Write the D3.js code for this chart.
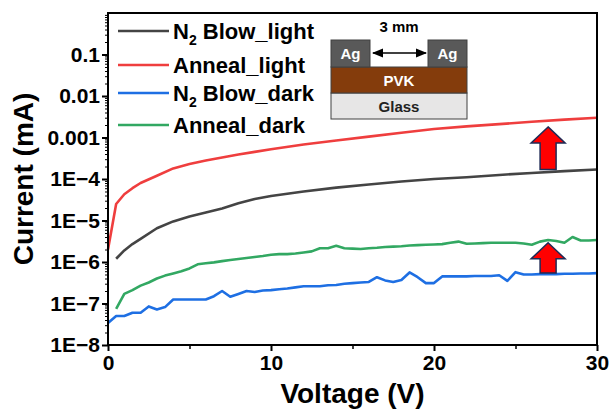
<!DOCTYPE html>
<html>
<head>
<meta charset="utf-8">
<script src="https://d3js.org/d3.v7.min.js"></script>
<style>
  body { margin: 0; background: #fff; }
  text { font-family: "Liberation Sans", Arial, sans-serif; font-weight: bold; }
</style>
</head>
<body>
<div id="chart"></div>
<script>
// voltage grids (V)
const lightVoltage = [0, 0.5, 1, 1.5, 2, 3, 4, 5, 6, 7, 8, 9, 10, 12, 14, 16, 18, 20, 22, 24, 26, 28, 30];
const darkVoltage = d3.range(0, 30.5, 0.5);

// currents (mA)
const annealLight = [2.0e-6, 2.5e-5, 4.3e-5, 6.0e-5, 8.0e-5, 1.2e-4, 1.8e-4, 2.3e-4, 2.8e-4, 3.3e-4, 3.9e-4, 4.5e-4,
  5.2e-4, 6.8e-4, 8.5e-4, 1.05e-3, 1.3e-3, 1.6e-3, 1.85e-3, 2.1e-3, 2.4e-3, 2.7e-3, 3.0e-3];
const n2Light = [null, 1.2e-6, 1.9e-6, 2.7e-6, 3.6e-6, 6.5e-6, 9.5e-6, 1.25e-5, 1.55e-5, 1.95e-5, 2.6e-5, 3.3e-5,
  3.9e-5, 5.0e-5, 6.2e-5, 7.4e-5, 8.7e-5, 1.0e-4, 1.1e-4, 1.25e-4, 1.4e-4, 1.55e-4, 1.7e-4];
const n2Dark = [3.4e-8, 5.0e-8, 5.0e-8, 6.0e-8, 6.0e-8, 8.5e-8, 7.2e-8, 8.2e-8, 1.25e-7, 1.25e-7, 1.25e-7, 1.25e-7,
  1.25e-7, 1.5e-7, 2.0e-7, 1.45e-7, 1.7e-7, 2.0e-7, 1.9e-7, 2.05e-7, 2.1e-7, 2.2e-7, 2.3e-7, 2.45e-7,
  2.6e-7, 2.6e-7, 2.6e-7, 2.75e-7, 2.8e-7, 3.0e-7, 3.1e-7, 3.2e-7, 3.3e-7, 4.3e-7, 3.6e-7, 3.3e-7,
  3.7e-7, 5.6e-7, 4.3e-7, 3.1e-7, 3.1e-7, 4.5e-7, 4.5e-7, 4.5e-7, 4.5e-7, 4.6e-7, 4.6e-7, 4.6e-7,
  4.8e-7, 3.5e-7, 5.7e-7, 5.0e-7, 5.0e-7, 5.1e-7, 5.1e-7, 5.1e-7, 5.2e-7, 5.2e-7, 5.3e-7, 5.3e-7, 5.4e-7];
const annealDark = [null, 7.4e-8, 1.7e-7, 2.1e-7, 2.7e-7, 3.2e-7, 4.0e-7, 4.7e-7, 5.3e-7, 6.0e-7, 7.0e-7, 8.8e-7,
  9.3e-7, 9.8e-7, 1.05e-6, 1.12e-6, 1.18e-6, 1.25e-6, 1.32e-6, 1.4e-6, 1.5e-6, 1.55e-6, 1.55e-6, 1.6e-6,
  1.7e-6, 1.8e-6, 2.15e-6, 2.15e-6, 2.45e-6, 2.15e-6, 2.1e-6, 2.05e-6, 2.15e-6, 2.2e-6, 2.3e-6, 2.35e-6,
  2.4e-6, 2.5e-6, 2.55e-6, 2.6e-6, 2.65e-6, 2.7e-6, 2.9e-6, 3.1e-6, 2.75e-6, 2.8e-6, 2.85e-6, 2.9e-6,
  2.9e-6, 2.9e-6, 2.9e-6, 2.8e-6, 2.6e-6, 3.1e-6, 3.4e-6, 3.2e-6, 2.9e-6, 4.0e-6, 3.3e-6, 3.3e-6, 3.4e-6];

const yTicks = [1e-1, 1e-2, 1e-3, 1e-4, 1e-5, 1e-6, 1e-7, 1e-8];
const xTicks = [0, 10, 20, 30];

// legend order
const series = [
  {name: "Blow_light", sub: true, x: lightVoltage, y: n2Light, color: "#444444"},
  {name: "Anneal_light", sub: false, x: lightVoltage, y: annealLight, color: "#ef3e3e"},
  {name: "Blow_dark", sub: true, x: darkVoltage, y: n2Dark, color: "#1e6fe3"},
  {name: "Anneal_dark", sub: false, x: darkVoltage, y: annealDark, color: "#32a862"}
];
// red arrows: voltage, from, to
const arrows = [{v: 27, from: 1.7e-4, to: 1.8e-3}, {v: 27, from: 5.4e-7, to: 2.9e-6}];

const w = 611, h = 409;
const m = {l: 108, r: 14, t: 13, b: 64};

const svg = d3.select("#chart").append("svg")
  .attr("width", w).attr("height", h);

const x = d3.scaleLinear().domain([0, 30]).range([m.l, w - m.r]);
const y = d3.scaleLog().domain([1e-8, 1]).range([h - m.b, m.t]);

const fmt = (d) => {
  const e = Math.round(Math.log10(d));
  return e >= -3 ? d.toFixed(-e) : "1E\u2212" + (-e);
};

// minor ticks
const minorY = [];
for (let e = -8; e < 0; e++) for (let k = 2; k <= 9; k++) minorY.push(k * Math.pow(10, e));

svg.append("g")
  .attr("transform", `translate(${m.l},0)`)
  .call(d3.axisLeft(y).tickValues(minorY).tickSize(3).tickFormat(""))
  .call(g => g.select(".domain").remove())
  .selectAll("line").attr("stroke-width", 1);

svg.append("g")
  .attr("transform", `translate(0,${h - m.b})`)
  .call(d3.axisBottom(x).tickValues([5, 15, 25]).tickSize(4).tickFormat(""))
  .call(g => g.select(".domain").remove())
  .selectAll("line").attr("stroke-width", 1.5);

const yAxis = svg.append("g")
  .attr("transform", `translate(${m.l},0)`)
  .call(d3.axisLeft(y).tickValues(yTicks).tickSize(6).tickPadding(2).tickFormat(fmt));
yAxis.select(".domain").remove();
yAxis.selectAll("line").attr("stroke-width", 2);
yAxis.selectAll("text").attr("font-size", 21).attr("fill", "#000")
  .attr("font-family", "Liberation Sans, Arial, sans-serif").attr("font-weight", "bold");

const xAxis = svg.append("g")
  .attr("transform", `translate(0,${h - m.b})`)
  .call(d3.axisBottom(x).tickValues(xTicks).tickSize(6).tickPadding(4));
xAxis.select(".domain").remove();
xAxis.selectAll("line").attr("stroke-width", 2);
xAxis.selectAll("text").attr("font-size", 21).attr("fill", "#000")
  .attr("font-family", "Liberation Sans, Arial, sans-serif").attr("font-weight", "bold");

// curves
series.forEach(s => {
  const pts = s.x.map((v, i) => [v, s.y[i]]);
  svg.append("path")
    .datum(pts)
    .attr("fill", "none")
    .attr("stroke", s.color)
    .attr("stroke-width", 2.6)
    .attr("stroke-linejoin", "round")
    .attr("d", d3.line().defined(d => d[1] != null).x(d => x(d[0])).y(d => y(d[1])));
});

// frame
svg.append("rect")
  .attr("x", m.l).attr("y", m.t)
  .attr("width", w - m.r - m.l).attr("height", h - m.b - m.t)
  .attr("fill", "none").attr("stroke", "#000").attr("stroke-width", 2);

// arrows
arrows.forEach(a => {
  const cx = x(a.v), top = y(a.to), bot = y(a.from);
  const hw = 17, sw = 8, hh = 16;
  const p = [[cx, top], [cx + hw, top + hh], [cx + sw, top + hh], [cx + sw, bot],
    [cx - sw, bot], [cx - sw, top + hh], [cx - hw, top + hh]];
  svg.append("path")
    .attr("d", "M" + p.join("L") + "Z")
    .attr("fill", "#ff0000").attr("stroke", "#1f2a55").attr("stroke-width", 1.5)
    .attr("stroke-linejoin", "miter");
});

// legend
const leg = svg.append("g");
const rowY = [31, 65, 93, 125];
series.forEach((s, i) => {
  leg.append("line")
    .attr("x1", 118).attr("x2", 169).attr("y1", rowY[i]).attr("y2", rowY[i])
    .attr("stroke", s.color).attr("stroke-width", 2.6);
  const t = leg.append("text")
    .attr("x", 173).attr("y", rowY[i] + 8)
    .attr("font-size", 22).attr("fill", "#000");
  if (s.sub) {
    t.append("tspan").text("N");
    t.append("tspan").attr("font-size", 14).attr("dy", 6).text("2");
    t.append("tspan").attr("dy", -6).text(" " + s.name);
  } else {
    t.text(s.name);
  }
});

// device inset
const dev = svg.append("g");
dev.append("rect").attr("x", 331).attr("y", 93).attr("width", 136).attr("height", 26)
  .attr("fill", "#e7e6e6").attr("stroke", "#404040").attr("stroke-width", 1);
dev.append("rect").attr("x", 331).attr("y", 67).attr("width", 136).attr("height", 26)
  .attr("fill", "#843c0c").attr("stroke", "#404040").attr("stroke-width", 1);
[331, 428].forEach(ax => {
  dev.append("rect").attr("x", ax).attr("y", 40).attr("width", 39).attr("height", 27)
    .attr("fill", "#595959").attr("stroke", "#404040").attr("stroke-width", 1);
  dev.append("text").attr("x", ax + 19.5).attr("y", 59).attr("text-anchor", "middle")
    .attr("font-size", 15).attr("fill", "#fff").text("Ag");
});
dev.append("text").attr("x", 399).attr("y", 86).attr("text-anchor", "middle")
  .attr("font-size", 15).attr("fill", "#fff").text("PVK");
dev.append("text").attr("x", 399).attr("y", 112).attr("text-anchor", "middle")
  .attr("font-size", 15).attr("fill", "#222").text("Glass");
dev.append("text").attr("x", 399).attr("y", 32).attr("text-anchor", "middle")
  .attr("font-size", 15).attr("fill", "#000").text("3 mm");
const defs = svg.append("defs");
defs.append("marker").attr("id", "ah").attr("viewBox", "0 0 10 10")
  .attr("refX", 9).attr("refY", 5).attr("markerWidth", 7).attr("markerHeight", 7)
  .attr("orient", "auto-start-reverse")
  .append("path").attr("d", "M0,1L10,5L0,9Z").attr("fill", "#000");
dev.append("line").attr("x1", 373).attr("x2", 426).attr("y1", 53).attr("y2", 53)
  .attr("stroke", "#000").attr("stroke-width", 1.6)
  .attr("marker-start", "url(#ah)").attr("marker-end", "url(#ah)");

// axis titles
svg.append("text")
  .attr("x", (m.l + w - m.r) / 2).attr("y", 403)
  .attr("text-anchor", "middle").attr("font-size", 28).attr("fill", "#000")
  .text("Voltage (V)");
svg.append("text")
  .attr("transform", `translate(33,${(m.t + h - m.b) / 2}) rotate(-90)`)
  .attr("text-anchor", "middle").attr("font-size", 28).attr("fill", "#000")
  .text("Current (mA)");
</script>
</body>
</html>
